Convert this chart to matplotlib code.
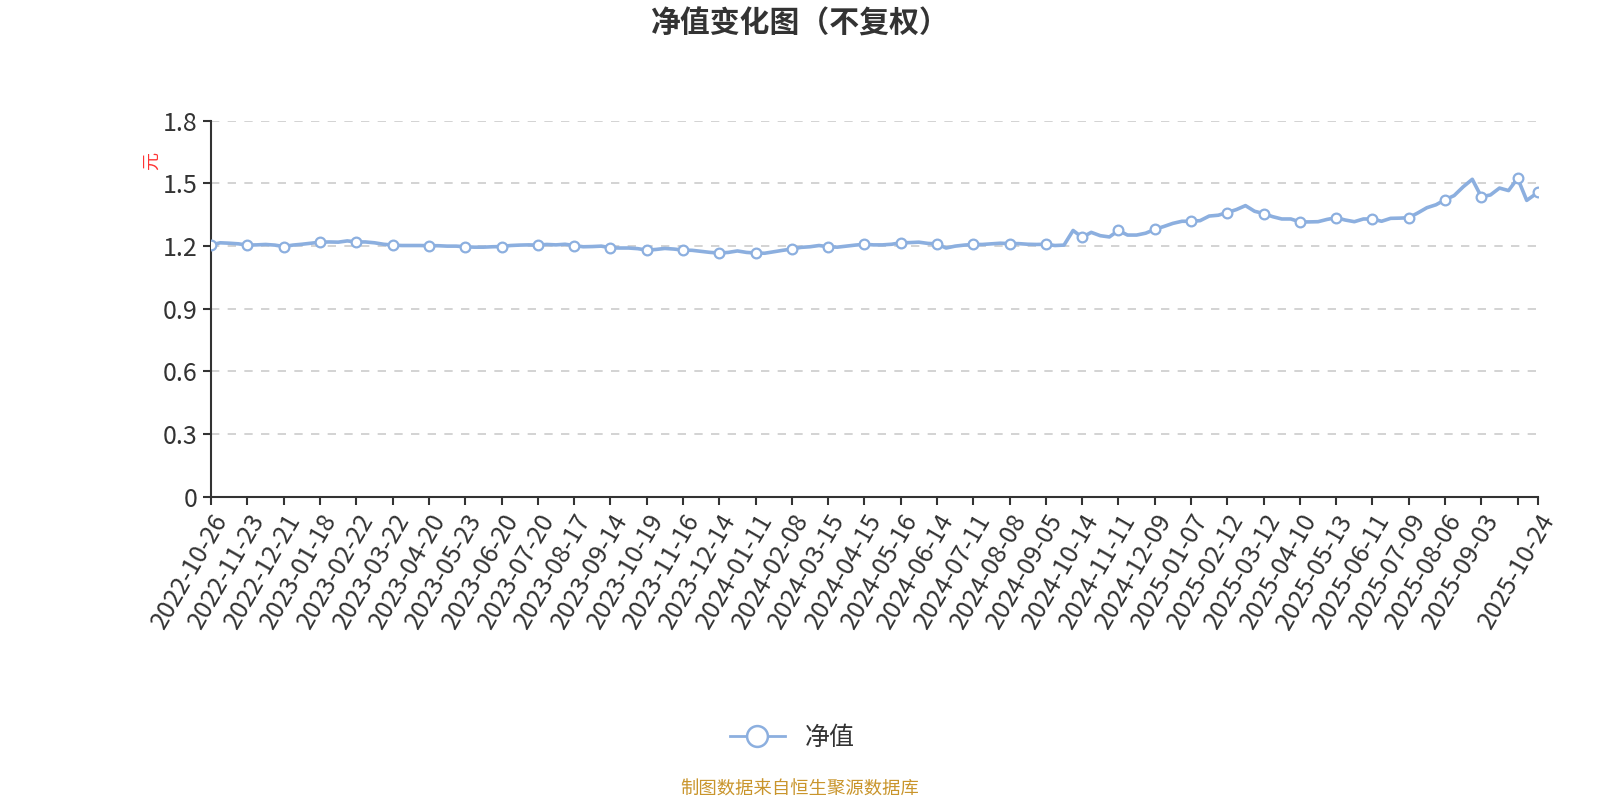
import numpy as np
import matplotlib
matplotlib.use('Agg')
import matplotlib.pyplot as plt
from matplotlib.lines import Line2D

plt.rcParams['font.family'] = ['Noto Sans CJK SC', 'DejaVu Sans']

# 每隔5个交易日读取的单位净值（最后一个为2025-10-24）
STEP = 5
nav = [
    1.206, 1.216, 1.214, 1.211, 1.205, 1.206, 1.208, 1.205, 1.198, 1.205,
    1.209, 1.214, 1.219, 1.220, 1.219, 1.225, 1.220, 1.220, 1.216, 1.209,
    1.205, 1.203, 1.203, 1.203, 1.202, 1.202, 1.200, 1.200, 1.197, 1.195,
    1.195, 1.197, 1.198, 1.203, 1.205, 1.206, 1.205, 1.208, 1.206, 1.209,
    1.203, 1.197, 1.198, 1.200, 1.192, 1.191, 1.191, 1.188, 1.181, 1.184,
    1.189, 1.186, 1.181, 1.180, 1.175, 1.170, 1.167, 1.170, 1.177, 1.170,
    1.167, 1.166, 1.173, 1.180, 1.186, 1.194, 1.197, 1.203, 1.197, 1.195,
    1.200, 1.205, 1.209, 1.206, 1.206, 1.209, 1.216, 1.217, 1.219, 1.213,
    1.211, 1.191, 1.200, 1.205, 1.208, 1.208, 1.211, 1.214, 1.212, 1.212,
    1.209, 1.208, 1.209, 1.203, 1.205, 1.275, 1.242, 1.266, 1.250, 1.244,
    1.275, 1.253, 1.253, 1.262, 1.280, 1.294, 1.309, 1.319, 1.319, 1.322,
    1.344, 1.348, 1.361, 1.375, 1.394, 1.367, 1.356, 1.341, 1.330, 1.330,
    1.316, 1.316, 1.317, 1.328, 1.336, 1.325, 1.317, 1.330, 1.330, 1.319,
    1.333, 1.334, 1.336, 1.359, 1.384, 1.398, 1.422, 1.442, 1.484, 1.520,
    1.436, 1.445, 1.478, 1.466, 1.525, 1.419, 1.450,
]
last_nav = 1.458
LAST_DAY = 731

LABEL_STEP = 20
label_dates = [
    '2022-10-26', '2022-11-23', '2022-12-21', '2023-01-18', '2023-02-22',
    '2023-03-22', '2023-04-20', '2023-05-23', '2023-06-20', '2023-07-20',
    '2023-08-17', '2023-09-14', '2023-10-19', '2023-11-16', '2023-12-14',
    '2024-01-11', '2024-02-08', '2024-03-15', '2024-04-15', '2024-05-16',
    '2024-06-14', '2024-07-11', '2024-08-08', '2024-09-05', '2024-10-14',
    '2024-11-11', '2024-12-09', '2025-01-07', '2025-02-12', '2025-03-12',
    '2025-04-10', '2025-05-13', '2025-06-11', '2025-07-09', '2025-08-06',
    '2025-09-03',
]
last_date = '2025-10-24'

days = np.append(np.arange(len(nav)) * STEP, LAST_DAY)
values = np.append(nav, last_nav)

tick_days = list(range(0, LAST_DAY, LABEL_STEP)) + [LAST_DAY]
tick_labels = label_dates + [''] * (len(tick_days) - len(label_dates) - 1) + [last_date]

marker_idx = [i for i, d in enumerate(days) if d % LABEL_STEP == 0] + [len(days) - 1]

blue = '#8cafdf'

fig = plt.figure(figsize=(16, 8), dpi=100)
ax = fig.add_axes([0.132, 0.379, 0.829, 0.470])

ax.plot(days, values, color=blue, lw=2.6, marker='o', markevery=marker_idx,
        markersize=7, markerfacecolor='white', markeredgecolor=blue,
        markeredgewidth=1.6, zorder=3, solid_joinstyle='round')

ax.set_xlim(0, LAST_DAY)
ax.set_ylim(0, 1.8)
ax.set_yticks(np.arange(0, 1.81, 0.3))
ax.set_yticklabels(['0', '0.3', '0.6', '0.9', '1.2', '1.5', '1.8'])
ax.set_xticks(tick_days)
ax.set_xticklabels(tick_labels, rotation=60, ha='right', rotation_mode='anchor')

for y in np.arange(0.3, 1.81, 0.3):
    ax.axhline(y, color='#cccccc', lw=1.2, ls=(0, (5, 5)), zorder=1)

for s in ['top', 'right']:
    ax.spines[s].set_visible(False)
for s in ['left', 'bottom']:
    ax.spines[s].set_color('#333333')
    ax.spines[s].set_linewidth(1.5)
ax.tick_params(axis='both', colors='#333333', labelsize=18, length=6, width=1.5)
ax.tick_params(axis='y', pad=4)
ax.tick_params(axis='x', pad=3)

ax.text(-0.045, 0.893, '元', transform=ax.transAxes, color='#ff3333', fontsize=13,
        rotation=90, ha='center', va='center')

fig.text(0.5, 0.97, '净值变化图（不复权）', ha='center', va='center',
         fontsize=21.5, fontweight='bold', color='#333333')

handle = Line2D([], [], color=blue, lw=2, marker='o', markersize=15,
                markerfacecolor='white', markeredgecolor=blue, markeredgewidth=1.8)
fig.legend([handle], ['净值'], loc='center', bbox_to_anchor=(0.495, 0.078),
           frameon=False, fontsize=18, handlelength=2.2, labelcolor='#333333')

fig.text(0.5, 0.002, '制图数据来自恒生聚源数据库', ha='center', va='bottom',
         fontsize=13.2, color='#c9952c')

fig.savefig('out.png', dpi=100)
